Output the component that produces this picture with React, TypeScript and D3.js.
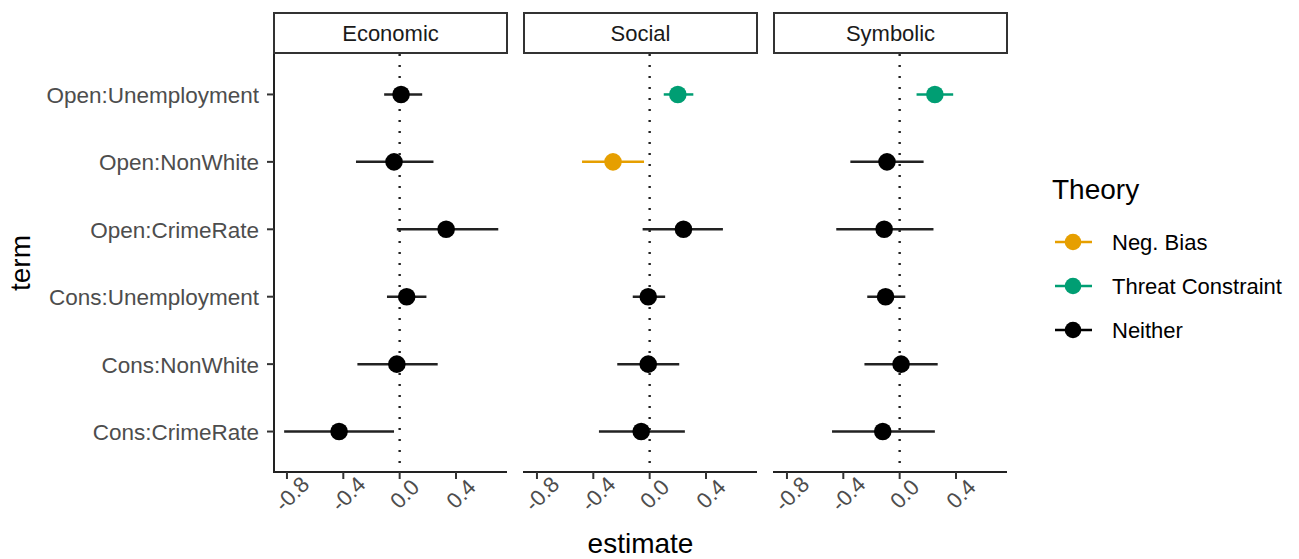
import React from "react";
import { scaleLinear, scalePoint, scaleBand, scaleOrdinal } from "d3";

const terms = ["Open:Unemployment", "Open:NonWhite", "Open:CrimeRate", "Cons:Unemployment", "Cons:NonWhite", "Cons:CrimeRate"];
const panels = ["Economic", "Social", "Symbolic"];
const theories = ["Neg. Bias", "Threat Constraint", "Neither"];
const xTicks = [-0.8, -0.4, 0.0, 0.4];

// per panel, values in the same order as terms
const estimates = [
  [0.01, -0.04, 0.33, 0.05, -0.02, -0.43],
  [0.20, -0.26, 0.24, -0.01, -0.01, -0.06],
  [0.25, -0.09, -0.11, -0.10, 0.01, -0.12],
];
const lows = [
  [-0.11, -0.31, -0.02, -0.09, -0.30, -0.82],
  [0.10, -0.48, -0.05, -0.12, -0.23, -0.36],
  [0.12, -0.35, -0.45, -0.23, -0.25, -0.48],
];
const highs = [
  [0.16, 0.24, 0.70, 0.19, 0.27, -0.04],
  [0.31, -0.04, 0.52, 0.11, 0.21, 0.25],
  [0.38, 0.17, 0.24, 0.04, 0.27, 0.25],
];
const theoryOf = [
  ["Neither", "Neither", "Neither", "Neither", "Neither", "Neither"],
  ["Threat Constraint", "Neg. Bias", "Neither", "Neither", "Neither", "Neither"],
  ["Threat Constraint", "Neither", "Neither", "Neither", "Neither", "Neither"],
];

const W = 1299;
const H = 559;
const top = 54;
const bottom = 472;
const font = "'Liberation Sans', Arial, Helvetica, sans-serif";

export default function App() {
  const panelX = scaleBand().domain(panels).range([274, 1007]).paddingInner(0.068);
  const pw = panelX.bandwidth();
  const x = scaleLinear().domain([-0.892, 0.762]).range([0, pw]);
  const y = scalePoint().domain(terms).range([top, bottom]).padding(0.6);
  const color = scaleOrdinal<string, string>().domain(theories).range(["#E69F00", "#009E73", "#000000"]);

  return (
    <svg width={W} height={H} style={{ position: "absolute", left: 0, top: 0, background: "#fff" }} fontFamily={font}>
      {/* y axis */}
      <line x1={274} x2={274} y1={top - 1} y2={bottom + 1} stroke="#222" strokeWidth={2} />
      {terms.map((t) => (
        <g key={t}>
          <line x1={267} x2={274} y1={y(t)} y2={y(t)} stroke="#333" strokeWidth={2} />
          <text x={259} y={y(t) + 1} textAnchor="end" dominantBaseline="central" fontSize={22.5} fill="#4d4d4d">{t}</text>
        </g>
      ))}
      <text transform={`translate(30,${(top + bottom) / 2}) rotate(-90)`} textAnchor="middle" fontSize={28} fill="#000">term</text>

      {panels.map((p, pi) => {
        const x0 = panelX(p)!;
        return (
          <g key={p}>
            <rect x={x0} y={13} width={pw} height={40} fill="#fff" stroke="#333" strokeWidth={2} />
            <text x={x0 + pw / 2} y={33} textAnchor="middle" dominantBaseline="central" fontSize={22} fill="#1a1a1a">{p}</text>
            <line x1={x0 - 1} x2={x0 + pw} y1={bottom} y2={bottom} stroke="#222" strokeWidth={2} />
            {xTicks.map((v) => (
              <g key={v}>
                <line x1={x0 + x(v)} x2={x0 + x(v)} y1={bottom} y2={bottom + 7} stroke="#333" strokeWidth={2} />
                <text transform={`translate(${x0 + x(v) + 5},${bottom + 22}) rotate(-45)`} textAnchor="middle" dominantBaseline="central" fontSize={22} fill="#4d4d4d">{v.toFixed(1)}</text>
              </g>
            ))}
            <line x1={x0 + x(0)} x2={x0 + x(0)} y1={top} y2={bottom} stroke="#222" strokeWidth={2.4} strokeDasharray="2 9" />
            {terms.map((t, ti) => {
              const c = color(theoryOf[pi][ti]);
              return (
                <g key={t}>
                  <line x1={x0 + x(lows[pi][ti])} x2={x0 + x(highs[pi][ti])} y1={y(t)} y2={y(t)} stroke={c === "#000000" ? "#222" : c} strokeWidth={2.5} />
                  <circle cx={x0 + x(estimates[pi][ti])} cy={y(t)} r={8.8} fill={c} />
                </g>
              );
            })}
          </g>
        );
      })}
      <text x={panelX("Social")! + pw / 2} y={553} textAnchor="middle" fontSize={28} fill="#000">estimate</text>

      {/* legend */}
      <text x={1052} y={199} fontSize={28} fill="#000">Theory</text>
      {theories.map((t, i) => {
        const ly = 242 + i * 44;
        return (
          <g key={t}>
            <line x1={1055} x2={1092} y1={ly} y2={ly} stroke={color(t)} strokeWidth={2.5} />
            <circle cx={1073} cy={ly} r={8.3} fill={color(t)} />
            <text x={1112} y={ly} dominantBaseline="central" fontSize={22} fill="#000">{t}</text>
          </g>
        );
      })}
    </svg>
  );
}
